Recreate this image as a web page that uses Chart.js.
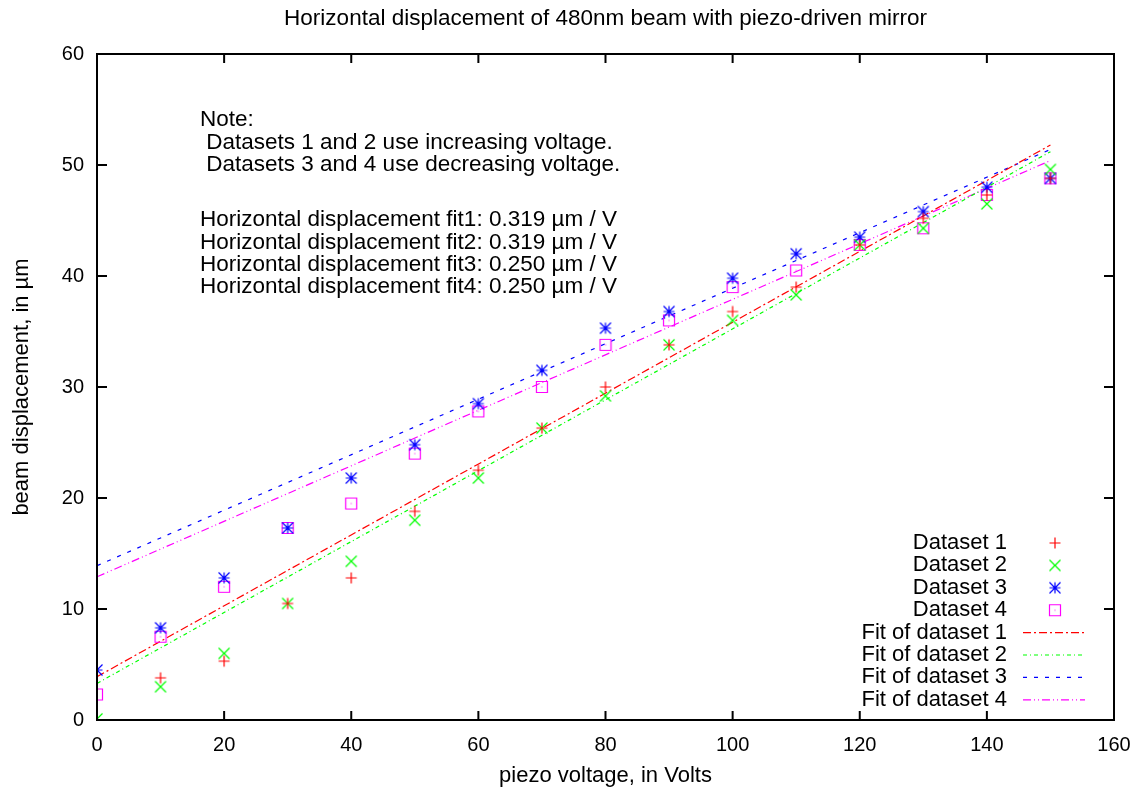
<!DOCTYPE html>
<html>
<head>
<meta charset="utf-8">
<script src="https://cdn.jsdelivr.net/npm/chart.js@4.4.0/dist/chart.umd.min.js"></script>
<style>
  body { margin: 0; background: #fff; }
  canvas { display: block; }
</style>
</head>
<body>
<canvas id="piezo" width="1146" height="792"></canvas>
<script>
// values
var voltage = [0, 10, 20, 30, 40, 50, 60, 70, 80, 90, 100, 110, 120, 130, 140, 150];
var dataset1 = [0.0, 3.8, 5.3, 10.5, 12.8, 18.8, 22.5, 26.3, 30.0, 33.8, 36.8, 39.0, 42.8, 45.2, 47.3, 48.8];
var dataset2 = [0.1, 3.0, 6.0, 10.5, 14.3, 18.0, 21.8, 26.3, 29.2, 33.8, 36.0, 38.3, 42.8, 44.3, 46.5, 49.6];
var dataset3 = [4.5, 8.3, 12.8, 17.3, 21.8, 24.8, 28.5, 31.5, 35.3, 36.8, 39.8, 42.0, 43.5, 45.8, 48.0, 48.8];
var dataset4 = [2.3, 7.5, 12.0, 17.3, 19.5, 24.0, 27.8, 30.0, 33.8, 36.0, 39.0, 40.5, 42.8, 44.3, 47.3, 48.8];

// fitted lines, end points
var fitX = [0, 150];
var fit1 = [3.9, 51.8];
var fit2 = [3.3, 51.2];
var fit3 = [13.9, 51.4];
var fit4 = [12.9, 50.4];

var xTicks = [0, 20, 40, 60, 80, 100, 120, 140, 160];
var yTicks = [0, 10, 20, 30, 40, 50, 60];

var noteLines = [
    'Note:',
    ' Datasets 1 and 2 use increasing voltage.',
    ' Datasets 3 and 4 use decreasing voltage.'
];
var fitLines = [
    'Horizontal displacement fit1: 0.319 \u00b5m / V',
    'Horizontal displacement fit2: 0.319 \u00b5m / V',
    'Horizontal displacement fit3: 0.250 \u00b5m / V',
    'Horizontal displacement fit4: 0.250 \u00b5m / V'
];

var FONT = "'Liberation Sans', Arial, sans-serif";

function marker(kind, color) {
    var c = document.createElement('canvas');
    c.width = 14; c.height = 14;
    var g = c.getContext('2d');
    var m = 7, r = 5.5;
    g.strokeStyle = color;
    g.fillStyle = color;
    g.lineWidth = 1.2;
    g.beginPath();
    if (kind == 'plus' || kind == 'star') {
        g.moveTo(m - r, m); g.lineTo(m + r, m);
        g.moveTo(m, m - r); g.lineTo(m, m + r);
    }
    if (kind == 'cross' || kind == 'star') {
        g.moveTo(m - r, m - r); g.lineTo(m + r, m + r);
        g.moveTo(m - r, m + r); g.lineTo(m + r, m - r);
    }
    if (kind == 'box') {
        g.rect(m - r, m - r, 2 * r, 2 * r);
        g.fillRect(m - 0.5, m - 0.5, 1, 1);
    }
    g.stroke();
    return c;
}

function pts(ys) {
    return voltage.map(function (v, i) { return {x: v, y: ys[i]}; });
}
function fitPts(ys) {
    return fitX.map(function (v, i) { return {x: v, y: ys[i]}; });
}

function pointSet(label, ys, kind, color) {
    return {
        label: label, data: pts(ys), showLine: false,
        pointStyle: marker(kind, color), pointRadius: 6, borderColor: color, backgroundColor: color
    };
}
function fitSet(label, ys, color, dash) {
    return {
        label: label, data: fitPts(ys), showLine: true, pointRadius: 0,
        borderColor: color, borderWidth: 1.2, borderDash: dash, fill: false
    };
}

// border + inward ticks, gnuplot style
var frame = {
    id: 'frame',
    afterDraw: function (chart) {
        var a = chart.chartArea, ctx = chart.ctx;
        var sx = chart.scales.x, sy = chart.scales.y;
        ctx.save();
        ctx.strokeStyle = '#000';
        ctx.lineWidth = 2;
        ctx.beginPath();
        xTicks.forEach(function (t) {
            var px = sx.getPixelForValue(t);
            ctx.moveTo(px, a.bottom); ctx.lineTo(px, a.bottom - 9);
            ctx.moveTo(px, a.top); ctx.lineTo(px, a.top + 9);
        });
        yTicks.forEach(function (t) {
            var py = sy.getPixelForValue(t);
            ctx.moveTo(a.left, py); ctx.lineTo(a.left + 10, py);
            ctx.moveTo(a.right, py); ctx.lineTo(a.right - 10, py);
        });
        ctx.stroke();
        ctx.strokeRect(a.left, a.top, a.right - a.left, a.bottom - a.top);
        ctx.restore();
    }
};

var notes = {
    id: 'notes',
    afterDraw: function (chart) {
        var a = chart.chartArea, ctx = chart.ctx;
        ctx.save();
        ctx.font = '22.5px ' + FONT;
        ctx.fillStyle = '#000';
        ctx.textBaseline = 'middle';
        ctx.textAlign = 'left';
        noteLines.forEach(function (s, i) {
            ctx.fillText(s, a.left + 103, a.top + 66 + i * 22.4);
        });
        fitLines.forEach(function (s, i) {
            ctx.fillText(s, a.left + 103, a.top + 166 + i * 22.4);
        });
        ctx.restore();
    }
};

var key = {
    id: 'key',
    afterDraw: function (chart) {
        var a = chart.chartArea, ctx = chart.ctx;
        ctx.save();
        ctx.font = '22px ' + FONT;
        ctx.fillStyle = '#000';
        ctx.textBaseline = 'middle';
        chart.data.datasets.forEach(function (ds, i) {
            var y = a.bottom - 177 + i * 22.4;
            ctx.textAlign = 'right';
            ctx.fillText(ds.label, a.right - 107, y);
            if (ds.showLine) {
                ctx.strokeStyle = ds.borderColor;
                ctx.lineWidth = ds.borderWidth;
                ctx.setLineDash(ds.borderDash);
                ctx.beginPath();
                ctx.moveTo(a.right - 91, y); ctx.lineTo(a.right - 29, y);
                ctx.stroke();
                ctx.setLineDash([]);
            } else {
                var img = ds.pointStyle;
                ctx.drawImage(img, a.right - 59 - img.width / 2, y - img.height / 2);
            }
        });
        ctx.restore();
    }
};

var ctx = document.getElementById('piezo');
new Chart(ctx, {
    type: 'scatter',
    data: {
        datasets: [
            pointSet('Dataset 1', dataset1, 'plus', '#ff0000'),
            pointSet('Dataset 2', dataset2, 'cross', '#00ff00'),
            pointSet('Dataset 3', dataset3, 'star', '#0000ff'),
            pointSet('Dataset 4', dataset4, 'box', '#ff00ff'),
            fitSet('Fit of dataset 1', fit1, '#ff0000', [8, 3, 2, 3]),
            fitSet('Fit of dataset 2', fit2, '#00ff00', [4, 3, 1, 3]),
            fitSet('Fit of dataset 3', fit3, '#0000ff', [4, 7]),
            fitSet('Fit of dataset 4', fit4, '#ff00ff', [8, 3, 1, 3, 1, 3])
        ]
    },
    options: {
        responsive: false,
        animation: false,
        layout: {padding: {left: 0, right: 32, top: 0, bottom: 0}},
        plugins: {
            legend: {display: false},
            tooltip: {enabled: false},
            title: {
                display: true,
                fullSize: false,
                text: 'Horizontal displacement of 480nm beam with piezo-driven mirror',
                color: '#000',
                font: {family: FONT, size: 22.5, weight: 'normal'},
                padding: {top: 5, bottom: 22}
            }
        },
        scales: {
            x: {
                type: 'linear', min: 0, max: 160,
                afterBuildTicks: function (s) { s.ticks = xTicks.map(function (v) { return {value: v}; }); },
                afterFit: function (s) { s.height = 72; },
                ticks: {color: '#000', font: {family: FONT, size: 20}, padding: 13},
                grid: {display: false, drawTicks: false},
                border: {display: false},
                title: {display: true, text: 'piezo voltage, in Volts', color: '#000',
                    font: {family: FONT, size: 22}, padding: {top: 0, bottom: 3}}
            },
            y: {
                type: 'linear', min: 0, max: 60,
                afterBuildTicks: function (s) { s.ticks = yTicks.map(function (v) { return {value: v}; }); },
                afterFit: function (s) { s.width = 97; },
                ticks: {color: '#000', font: {family: FONT, size: 20}, padding: 13},
                grid: {display: false, drawTicks: false},
                border: {display: false},
                title: {display: true, text: 'beam displacement, in \u00b5m', color: '#000',
                    font: {family: FONT, size: 22}, padding: {top: 9, bottom: 0}}
            }
        }
    },
    plugins: [frame, notes, key]
});
</script>
</body>
</html>
